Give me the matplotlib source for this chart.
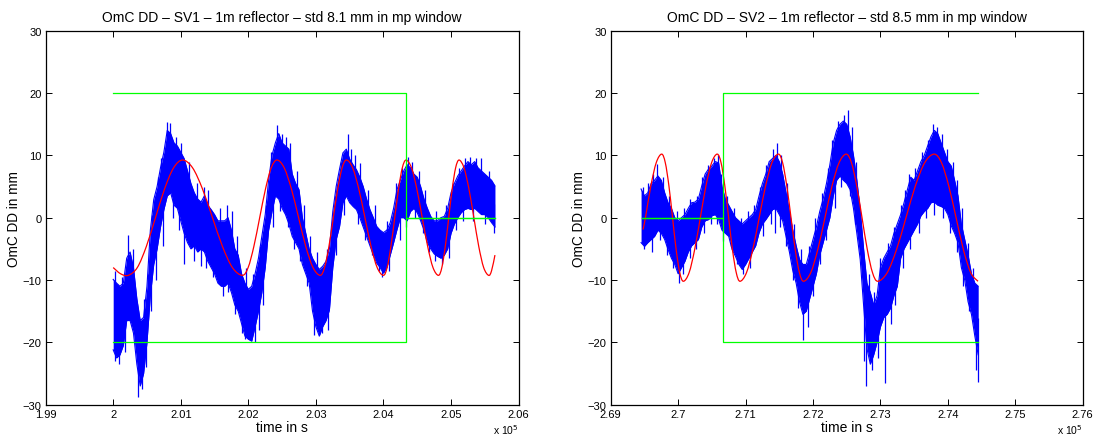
import numpy as np
import matplotlib
matplotlib.use("Agg")
import matplotlib.pyplot as plt
from matplotlib.path import Path
from matplotlib.patches import PathPatch

plt.rcParams['font.family'] = ['Liberation Sans', 'DejaVu Sans']

# ---------------- data (time in units of 1e5 s, values in mm) ----------------
titles = ["OmC DD \u2013 SV1 \u2013 1m reflector \u2013 std 8.1 mm in mp window",
          "OmC DD \u2013 SV2 \u2013 1m reflector \u2013 std 8.5 mm in mp window"]
xlims = [(1.99, 2.06), (2.69, 2.76)]
xticks1 = [1.99, 2.00, 2.01, 2.02, 2.03, 2.04, 2.05, 2.06]
xticklabels1 = ["1.99", "2", "2.01", "2.02", "2.03", "2.04", "2.05", "2.06"]
xticks2 = [2.69, 2.70, 2.71, 2.72, 2.73, 2.74, 2.75, 2.76]
xticklabels2 = ["2.69", "2.7", "2.71", "2.72", "2.73", "2.74", "2.75", "2.76"]
yticks = [-30, -20, -10, 0, 10, 20, 30]

# SV1 noisy observation band (upper / lower edge), sampled every 0.0005
blue1_t0, blue1_dt = 2.0000, 0.0005
blue1_hi = [-9.9, -10.5, -11.0, -10.5, -6.5, -5.5, -8.0, -13.0, -16.5, -16.0,
            -11.0, -2.0, 2.9, 5.0, 8.0, 10.5, 14.0, 13.5, 12.0, 11.5,
            10.5, 9.5, 7.5, 5.5, 4.0, 3.0, 2.5, 3.5, 2.0, 1.3,
            0.5, -0.5, -0.5, -0.5, 0.0, -2.0, -5.0, -6.0, -9.0, -10.5,
            -11.5, -11.0, -9.0, -6.5, -3.0, 0.5, 6.0, 10.0, 12.0, 13.5,
            12.0, 11.5, 11.0, 7.0, 5.5, 4.5, 0.0, -2.5, -5.0, -6.5,
            -7.5, -8.3, -7.8, -7.0, -5.0, 1.0, 5.0, 7.8, 10.4, 11.0,
            9.4, 8.5, 7.7, 6.5, 5.0, 3.0, 1.3, 0.0, -1.4, -2.0,
            -2.4, -2.0, -0.8, 1.5, 4.5, 6.0, 7.5, 8.5, 8.0, 7.0,
            6.5, 5.0, 3.0, 1.5, 0.2, -0.5, -0.5, 0.0, 0.2, 1.5,
            4.0, 5.5, 6.7, 7.5, 8.3, 9.0, 8.5, 9.0, 8.0, 7.5,
            7.0, 6.5, 6.0, 5.1]
blue1_lo = [-21.2, -22.5, -22.0, -20.5, -16.5, -16.5, -18.5, -23.5, -27.0, -25.0,
            -20.0, -12.5, -7.5, -5.0, -1.5, 1.3, 3.5, 4.0, 2.0, 1.5,
            -0.5, -2.5, -4.0, -5.0, -4.5, -5.5, -5.0, -5.5, -7.0, -8.0,
            -9.0, -10.5, -11.0, -11.0, -10.5, -12.0, -14.0, -15.0, -17.0, -19.0,
            -19.5, -19.8, -17.5, -15.0, -12.0, -8.0, -2.0, 1.0, 3.5, 3.0,
            1.5, 0.5, -1.0, -3.0, -4.0, -5.0, -7.5, -9.0, -10.5, -15.0,
            -17.5, -19.0, -17.5, -16.5, -14.8, -8.0, -3.5, -1.4, 2.4, 3.5,
            2.4, 1.8, 1.3, 0.0, -1.5, -3.0, -4.5, -6.0, -7.3, -8.0,
            -8.9, -8.0, -6.0, -4.0, -1.9, 0.0, 0.0, -0.5, 1.0, 1.5,
            0.8, -0.5, -2.0, -4.0, -5.0, -5.8, -6.2, -6.5, -6.0, -5.0,
            -2.5, -1.0, 0.0, 0.8, 1.3, 1.5, 1.3, 1.5, 1.0, 0.5,
            0.5, 0.0, -0.8, -1.5]
# isolated spikes of the SV1 series (time, value)
spike1_t = [2.0003, 2.0013, 2.0022, 2.0029, 2.0046, 2.0052, 2.0057, 2.0066, 2.0071,
            2.0079, 2.0084, 2.0093, 2.0101, 2.0112, 2.0124, 2.0135, 2.0141, 2.0158,
            2.0168, 2.0002, 2.0008, 2.0017, 2.0037, 2.0043, 2.0049, 2.0056, 2.0063,
            2.0074, 2.0089, 2.0098, 2.0105, 2.0119, 2.0130, 2.0138, 2.0147, 2.0162,
            2.0170, 2.0176, 2.0183, 2.0196, 2.0207, 2.0218, 2.0226, 2.0233, 2.0243,
            2.0250, 2.0256, 2.0262, 2.0272, 2.0283, 2.0291, 2.0302, 2.0316, 2.0328,
            2.0337, 2.0347, 2.0352, 2.0180, 2.0190, 2.0195, 2.0210, 2.0216, 2.0222,
            2.0237, 2.0247, 2.0258, 2.0267, 2.0277, 2.0287, 2.0297, 2.0309, 2.0318,
            2.0330, 2.0341, 2.0358, 2.0366, 2.0377, 2.0388, 2.0405, 2.0418, 2.0427,
            2.0436, 2.0442, 2.0452, 2.0462, 2.0478, 2.0492, 2.0503, 2.0512, 2.0521,
            2.0528, 2.0537, 2.0545, 2.0556, 2.0362, 2.0372, 2.0383, 2.0393, 2.0398,
            2.0408, 2.0424, 2.0433, 2.0447, 2.0458, 2.0468, 2.0477, 2.0487, 2.0497,
            2.0508, 2.0518, 2.0533, 2.0550, 2.0563]
spike1_v = [-8.5, -9.5, -2.7, -5.0, -13.0, -9.0, 0.5, 6.5, 9.5,
            15.3, 15.2, 13.0, 12.0, 9.0, 5.5, 5.0, 4.5, 1.5,
            2.0, -23.0, -23.5, -21.5, -28.7, -27.5, -24.0, -15.0, -10.0,
            -4.5, 0.0, -2.0, -7.5, -7.0, -7.8, -8.0, -9.5, -12.5,
            -12.0, 1.0, -3.0, -8.0, -9.0, -4.5, 2.0, 10.5, 14.8,
            13.5, 13.0, 12.0, 7.5, 2.0, -3.0, -5.5, -5.0, 3.5,
            9.0, 13.5, 11.0, -15.5, -18.5, -19.5, -20.0, -18.0, -14.0,
            -1.5, 1.0, -1.5, -5.0, -7.0, -11.0, -18.8, -18.5, -18.0,
            -6.0, 0.5, 10.0, 8.8, 4.5, 2.0, -0.5, 5.5, 8.0,
            9.8, 9.0, 7.5, 4.5, 1.0, 2.0, 5.5, 8.0, 9.5,
            9.8, 9.5, 9.5, 7.5, -1.0, -3.5, -6.0, -8.5, -9.5,
            -8.5, -3.5, -1.5, 0.0, -2.5, -5.5, -7.0, -7.5, -6.5,
            -2.0, -0.5, -0.5, -1.0, -2.5]

# SV2 noisy observation band
blue2_t0, blue2_dt = 2.6945, 0.0005
blue2_hi = [4.6, 3.5, 4.0, 5.5, 6.0, 6.7, 6.0, 4.0, 2.4, 1.5,
            0.0, -0.5, 0.0, 0.5, 1.5, 2.4, 2.5, 3.0, 5.1, 7.0,
            7.8, 8.3, 9.0, 8.8, 5.0, 3.0, 2.0, 1.0, 0.0, -0.5,
            -1.0, -0.5, 0.0, 0.5, 1.3, 3.5, 5.5, 7.0, 9.0, 9.5,
            10.0, 9.0, 7.0, 4.0, 1.0, -2.0, -4.5, -6.7, -7.5, -7.5,
            -5.5, -3.5, -1.5, 1.0, 3.0, 5.5, 8.5, 12.0, 14.0, 15.0,
            15.5, 15.0, 13.0, 10.0, 6.0, 1.3, -5.0, -10.5, -12.0, -14.0,
            -12.5, -8.0, -6.5, -5.5, -4.5, -2.5, -1.0, 0.5, 2.4, 4.5,
            6.5, 6.0, 7.5, 9.0, 10.0, 11.5, 13.0, 14.0, 13.5, 12.0,
            10.5, 9.0, 8.3, 6.0, 3.5, -1.0, -3.5, -6.0, -9.0, -10.5,
            -11.0]
blue2_lo = [-4.0, -4.6, -4.0, -3.5, -3.0, -2.0, -2.5, -3.5, -5.1, -6.5,
            -7.5, -9.0, -8.0, -7.0, -5.5, -4.5, -4.0, -3.5, -1.5, -0.5,
            -0.3, 0.3, 0.5, -0.3, -2.0, -2.5, -3.0, -5.1, -6.2, -7.5,
            -8.3, -7.5, -6.5, -5.5, -4.5, -2.4, -1.0, -0.3, 0.5, 1.3,
            1.5, 0.5, -0.5, -3.0, -5.5, -8.5, -10.5, -13.5, -15.5, -15.0,
            -13.0, -11.0, -9.0, -6.0, -4.0, -2.0, 0.0, 3.5, 6.0, 6.7,
            6.0, 5.5, 4.5, 1.5, -2.5, -6.7, -14.0, -21.0, -23.5, -22.0,
            -20.0, -17.5, -16.0, -15.5, -14.5, -12.5, -11.0, -6.5, -5.0, -4.0,
            -3.0, -2.0, -1.0, 0.3, 1.0, 1.5, 2.4, 2.5, 2.0, 1.8,
            1.5, 0.5, -1.3, -2.5, -4.0, -8.0, -10.0, -13.5, -15.5, -19.0,
            -22.0]
spike2_t = [2.6948, 2.6956, 2.6963, 2.6969, 2.6977, 2.6987, 2.6998, 2.7008, 2.7018,
            2.7028, 2.7036, 2.7044, 2.7053, 2.7059, 2.7064, 2.7073, 2.7083, 2.7093,
            2.7104, 2.7112, 2.6950, 2.6961, 2.6973, 2.6984, 2.6993, 2.7001, 2.7007,
            2.7017, 2.7027, 2.7038, 2.7048, 2.7058, 2.7067, 2.7078, 2.7088, 2.7096,
            2.7107, 2.7122, 2.7131, 2.7141, 2.7147, 2.7153, 2.7162, 2.7172, 2.7182,
            2.7194, 2.7203, 2.7213, 2.7222, 2.7228, 2.7237, 2.7246, 2.7252, 2.7258,
            2.7264, 2.7126, 2.7137, 2.7144, 2.7151, 2.7160, 2.7170, 2.7178, 2.7185,
            2.7192, 2.7200, 2.7210, 2.7220, 2.7232, 2.7242, 2.7255, 2.7263, 2.7272,
            2.7276, 2.7283, 2.7290, 2.7300, 2.7311, 2.7320, 2.7330, 2.7337, 2.7343,
            2.7352, 2.7362, 2.7370, 2.7378, 2.7384, 2.7391, 2.7398, 2.7408, 2.7414,
            2.7421, 2.7430, 2.7438, 2.7279, 2.7288, 2.7297, 2.7307, 2.7316, 2.7322,
            2.7333, 2.7344, 2.7357, 2.7368, 2.7380, 2.7393, 2.7403, 2.7413, 2.7423,
            2.7432, 2.7441, 2.7444]
spike2_v = [5.0, 5.5, 7.0, 8.6, 6.5, 3.5, 1.0, 1.5, 3.0,
            3.5, 6.5, 8.5, 9.5, 10.0, 7.0, 3.5, 1.5, 0.0,
            1.0, 2.0, -5.0, -5.5, -3.5, -6.0, -8.0, -10.5, -9.0,
            -6.5, -5.0, -2.5, -1.0, -1.0, -3.8, -4.5, -7.5, -9.0,
            -8.0, 5.0, 8.5, 11.0, 12.0, 10.0, 5.5, -1.0, -5.0,
            -4.5, 0.0, 4.0, 8.0, 12.5, 15.5, 16.5, 17.2, 14.5,
            9.0, -3.0, -1.0, -2.5, -1.5, -4.5, -10.0, -14.5, -19.6,
            -17.5, -12.5, -7.5, -3.5, 1.5, 5.0, 3.5, -1.0, -9.0,
            -23.0, -9.0, -12.0, -6.5, -4.0, -1.5, 2.0, 4.5, 7.0,
            8.0, 10.5, 12.5, 15.0, 14.5, 13.5, 11.0, 9.0, 6.0,
            1.5, -4.0, -8.0, -27.0, -24.5, -22.5, -26.6, -17.0, -14.0,
            -8.0, -5.0, -2.5, 0.0, 0.5, 0.0, -2.5, -5.5, -11.0,
            -15.0, -24.5, -26.3]

# Model curves (red)
red1_t = [2.00000, 2.00110, 2.00223,
          2.00357, 2.00491, 2.00626, 2.00760, 2.00894, 2.01028,
          2.01175, 2.01322, 2.01470, 2.01617, 2.01764, 2.01911,
          2.01997, 2.02082, 2.02168, 2.02254, 2.02339, 2.02425,
          2.02531, 2.02638, 2.02744, 2.02850, 2.02957, 2.03063,
          2.03128, 2.03193, 2.03258, 2.03323, 2.03388, 2.03453,
          2.03544, 2.03635, 2.03726, 2.03816, 2.03907, 2.03998,
          2.04054, 2.04110, 2.04167, 2.04223, 2.04279, 2.04335,
          2.04415, 2.04494, 2.04574, 2.04654, 2.04733, 2.04813,
          2.04864, 2.04915, 2.04966, 2.05017, 2.05068, 2.05119,
          2.05192, 2.05265, 2.05338, 2.05410, 2.05483, 2.05556,
          2.05600, 2.05650]
red1_v = [-8.0, -9.0, -9.25,
          -8.0, -4.6, 0.0, 4.6, 8.0, 9.25,
          8.0, 4.6, 0.0, -4.6, -8.0, -9.25,
          -8.0, -4.6, 0.0, 4.6, 8.0, 9.25,
          8.0, 4.6, 0.0, -4.6, -8.0, -9.25,
          -8.0, -4.6, 0.0, 4.6, 8.0, 9.25,
          8.0, 4.6, 0.0, -4.6, -8.0, -9.25,
          -8.0, -4.6, 0.0, 4.6, 8.0, 9.25,
          8.0, 4.6, 0.0, -4.6, -8.0, -9.25,
          -8.0, -4.6, 0.0, 4.6, 8.0, 9.25,
          8.0, 4.6, 0.0, -4.6, -8.0, -9.25,
          -8.5, -6.0]
red2_t = [2.69479, 2.69515, 2.69595, 2.69675, 2.69755,
          2.69809, 2.69863, 2.69917, 2.69970, 2.70024, 2.70078,
          2.70162, 2.70245, 2.70329, 2.70412, 2.70496, 2.70579,
          2.70636, 2.70692, 2.70749, 2.70805, 2.70862, 2.70918,
          2.71013, 2.71107, 2.71202, 2.71297, 2.71391, 2.71486,
          2.71549, 2.71611, 2.71674, 2.71736, 2.71799, 2.71861,
          2.71966, 2.72071, 2.72177, 2.72282, 2.72387, 2.72492,
          2.72570, 2.72648, 2.72727, 2.72805, 2.72883, 2.72961,
          2.73100, 2.73239, 2.73379, 2.73518, 2.73657, 2.73796,
          2.73905, 2.74013, 2.74122, 2.74230, 2.74339, 2.74447]
red2_v = [-1.9, 0.0, 5.1, 8.83, 10.2,
          8.83, 5.1, 0.0, -5.1, -8.83, -10.2,
          -8.83, -5.1, 0.0, 5.1, 8.83, 10.2,
          8.83, 5.1, 0.0, -5.1, -8.83, -10.2,
          -8.83, -5.1, 0.0, 5.1, 8.83, 10.2,
          8.83, 5.1, 0.0, -5.1, -8.83, -10.2,
          -8.83, -5.1, 0.0, 5.1, 8.83, 10.2,
          8.83, 5.1, 0.0, -5.1, -8.83, -10.2,
          -8.83, -5.1, 0.0, 5.1, 8.83, 10.2,
          8.83, 5.1, 0.0, -5.1, -8.83, -10.2]

# Window (green): +/-20 inside the mp window, 0 outside
win1_t = [2.0000, 2.0434, 2.0434, 2.0565]
win1_w = [1, 1, 0, 0]
win2_t = [2.6946, 2.7067, 2.7067, 2.7445]
win2_w = [0, 0, 1, 1]
win_level = 20

# ---------------- drawing ----------------
BLUE, RED, GREEN = '#0000ff', '#ff0000', '#00ff00'


def smooth_curve(ax, t, v, **kw):
    P = np.column_stack([t, v])
    n = len(P)
    verts = [P[0]]
    codes = [Path.MOVETO]
    for i in range(n - 1):
        p0 = P[i - 1] if i > 0 else P[i]
        p1, p2 = P[i], P[i + 1]
        p3 = P[i + 2] if i + 2 < n else P[i + 1]
        verts += [p1 + (p2 - p0) / 6.0, p2 - (p3 - p1) / 6.0, p2]
        codes += [Path.CURVE4] * 3
    ax.add_patch(PathPatch(Path(verts, codes), fill=False, **kw))


def draw_panel(ax, t0, dt, hi, lo, st, sv, rt, rv, wt, ww, title, xlim, xt, xtl):
    hi = np.asarray(hi)
    lo = np.asarray(lo)
    t = t0 + dt * np.arange(len(hi))
    ax.fill_between(t, lo, hi, color=BLUE, lw=0, zorder=2)
    ax.plot(t, hi, color=BLUE, lw=0.8, zorder=2)
    ax.plot(t, lo, color=BLUE, lw=0.8, zorder=2)
    mid = np.interp(st, t, (hi + lo) / 2.0)
    ax.vlines(st, mid, sv, color=BLUE, lw=0.9, zorder=2)
    smooth_curve(ax, rt, rv, edgecolor=RED, lw=0.9, zorder=3)
    w = np.asarray(ww) * win_level
    ax.plot(wt, w, color=GREEN, lw=0.9, zorder=4)
    ax.plot(wt, -w, color=GREEN, lw=0.9, zorder=4)

    ax.set_xlim(*xlim)
    ax.set_ylim(-30, 30)
    ax.set_xticks(xt)
    ax.set_xticklabels(xtl)
    ax.set_yticks(yticks)
    ax.set_yticklabels([str(v).replace('-', '\u2212') for v in yticks])
    ax.tick_params(direction='in', top=True, right=True, length=4, width=0.7,
                   labelsize=8, pad=3)
    for s in ax.spines.values():
        s.set_linewidth(0.9)
    ax.set_title(title, fontsize=10, pad=7)
    ax.set_xlabel("time in s", fontsize=10, labelpad=1)
    ax.set_ylabel("OmC DD in mm", fontsize=9.8)
    ax.yaxis.set_label_coords(-0.052, 0.5)
    pos = ax.get_position()
    fig.text(pos.x1, 2.0 / 439, "x 10$^5$", ha='right', va='bottom', fontsize=7.5)


fig = plt.figure(figsize=(11.02, 4.39), dpi=100)
ax1 = fig.add_axes([0.0414, 0.0759, 0.4292, 0.8519])
ax2 = fig.add_axes([0.5542, 0.0759, 0.4283, 0.8519])

draw_panel(ax1, blue1_t0, blue1_dt, blue1_hi, blue1_lo, spike1_t, spike1_v,
           red1_t, red1_v, win1_t, win1_w, titles[0], xlims[0], xticks1, xticklabels1)
draw_panel(ax2, blue2_t0, blue2_dt, blue2_hi, blue2_lo, spike2_t, spike2_v,
           red2_t, red2_v, win2_t, win2_w, titles[1], xlims[1], xticks2, xticklabels2)

fig.savefig("out.png", dpi=100, facecolor='white')
